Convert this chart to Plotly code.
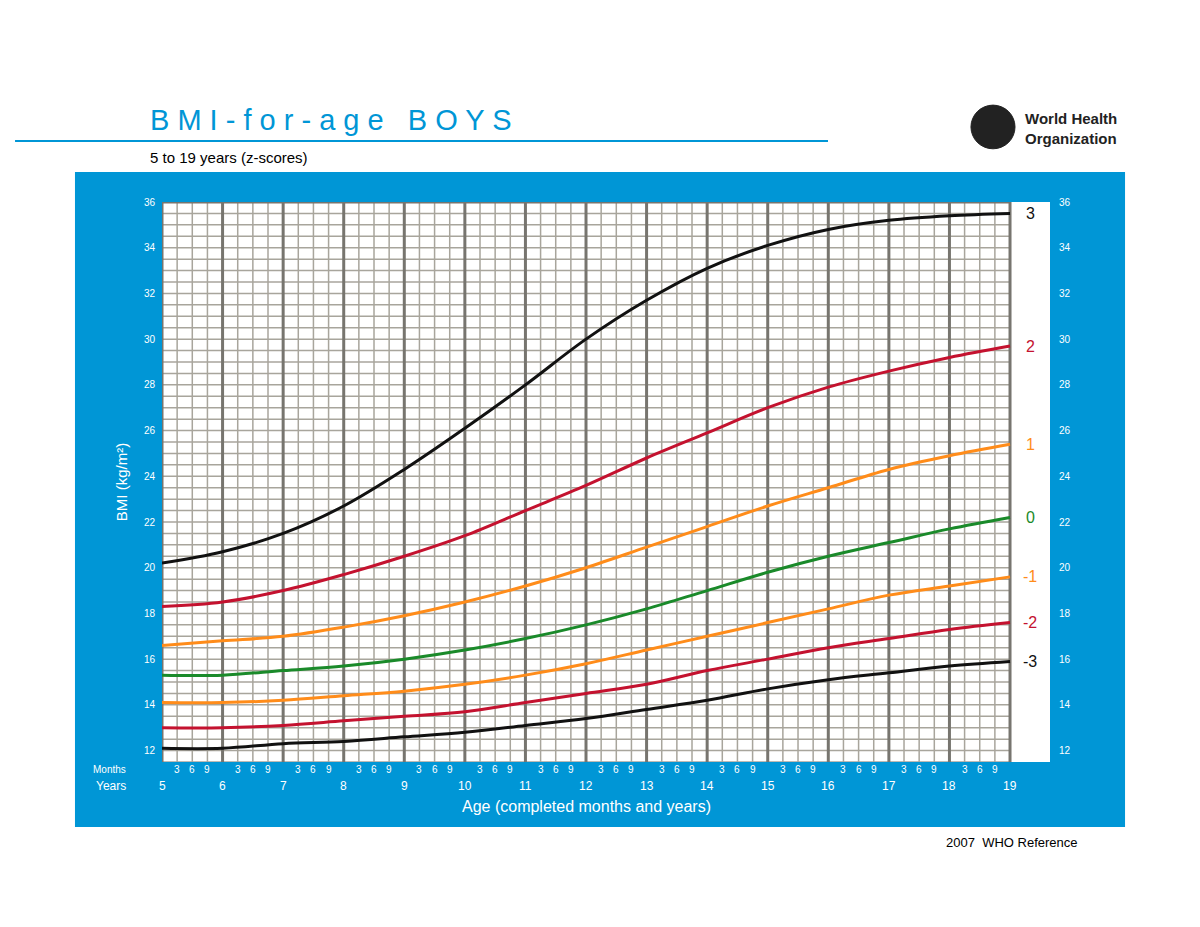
import plotly.graph_objects as go

ages = list(range(5, 20))
sd3 = [20.2, 20.7, 21.5, 22.7, 24.3, 26.1, 28.0, 30.0, 31.7, 33.1, 34.1, 34.8, 35.2, 35.4, 35.5]
sd2 = [18.3, 18.5, 19.0, 19.7, 20.5, 21.4, 22.5, 23.6, 24.8, 25.9, 27.0, 27.9, 28.6, 29.2, 29.7]
sd1 = [16.6, 16.8, 17.0, 17.4, 17.9, 18.5, 19.2, 20.0, 20.9, 21.8, 22.7, 23.5, 24.3, 24.9, 25.4]
sd0 = [15.3, 15.3, 15.5, 15.7, 16.0, 16.4, 16.9, 17.5, 18.2, 19.0, 19.8, 20.5, 21.1, 21.7, 22.2]
sdm1 = [14.1, 14.1, 14.2, 14.4, 14.6, 14.9, 15.3, 15.8, 16.4, 17.0, 17.6, 18.2, 18.8, 19.2, 19.6]
sdm2 = [13.0, 13.0, 13.1, 13.3, 13.5, 13.7, 14.1, 14.5, 14.9, 15.5, 16.0, 16.5, 16.9, 17.3, 17.6]
sdm3 = [12.1, 12.1, 12.3, 12.4, 12.6, 12.8, 13.1, 13.4, 13.8, 14.2, 14.7, 15.1, 15.4, 15.7, 15.9]
series_labels = ["3", "2", "1", "0", "-1", "-2", "-3"]
month_labels = ["3", "6", "9"]
y_ticks = list(range(12, 37, 2))

BLACK, RED, ORANGE, GREEN = "#111111", "#c4122f", "#ff8c1a", "#1a8a2a"
BLUE = "#0096d6"
series = [(sd3, BLACK), (sd2, RED), (sd1, ORANGE), (sd0, GREEN),
          (sdm1, ORANGE), (sdm2, RED), (sdm3, BLACK)]

fig = go.Figure()
for vals, col in series:
    fig.add_trace(go.Scatter(x=ages, y=vals, mode="lines", line=dict(color=col, width=3, shape="spline"),
                             showlegend=False, hoverinfo="skip"))
fig.add_trace(go.Scatter(x=[5], y=[12], yaxis="y2", mode="markers", marker=dict(opacity=0),
                         showlegend=False, hoverinfo="skip"))

YMIN, YMAX, XMAX = 11.5, 36, 19.66
GRID, MAJOR = "#a8a59c", "#77756f"
shapes = [
    dict(type="rect", xref="paper", yref="paper", x0=-0.098, x1=1.0845, y0=-0.116, y1=1.0536,
         fillcolor=BLUE, line_width=0, layer="below"),
    dict(type="rect", xref="x", yref="y", x0=5, x1=XMAX, y0=YMIN, y1=YMAX,
         fillcolor="white", line_width=0, layer="below"),
    dict(type="line", xref="paper", yref="paper", x0=-0.1655, x1=0.750, y0=1.109, y1=1.109,
         line=dict(color=BLUE, width=2)),
    dict(type="circle", xref="paper", yref="paper", x0=0.911, x1=0.9606, y0=1.095, y1=1.173,
         fillcolor="#222", line=dict(color="#222", width=1)),
]
v = YMIN
while v <= YMAX + 1e-9:
    shapes.append(dict(type="line", xref="x", yref="y", x0=5, x1=19, y0=v, y1=v,
                       line=dict(color=GRID, width=1.5), layer="below"))
    v += 0.5
for q in range(0, 14 * 4 + 1):
    x = 5 + q / 4
    major = q % 4 == 0
    shapes.append(dict(type="line", xref="x", yref="y", x0=x, x1=x, y0=YMIN - (0.45 if major else 0), y1=YMAX,
                       line=dict(color=MAJOR if major else GRID, width=3 if major else 1.5),
                       layer="below"))
shapes.append(dict(type="line", xref="x", yref="y", x0=5, x1=19, y0=YMAX, y1=YMAX,
                   line=dict(color=MAJOR, width=3), layer="below"))

ann = []
for a in ages:
    ann.append(dict(x=a, y=-0.043, xref="x", yref="paper", text=str(a), showarrow=False,
                    font=dict(color="white", size=12)))
    if a < 19:
        for i, ml in enumerate(month_labels):
            ann.append(dict(x=a + (i + 1) * 0.25, y=-0.0125, xref="x", yref="paper", text=ml, showarrow=False,
                            font=dict(color="white", size=10)))
ann.append(dict(x=-0.038, y=-0.0125, xref="paper", yref="paper", text="Months", showarrow=False,
                xanchor="right", font=dict(color="white", size=10)))
ann.append(dict(x=-0.038, y=-0.043, xref="paper", yref="paper", text="Years", showarrow=False,
                xanchor="right", font=dict(color="white", size=12)))
ann.append(dict(x=12, y=-0.080, xref="x", yref="paper", text="Age (completed months and years)", showarrow=False,
                font=dict(color="white", size=16)))
for (vals, col), lab in zip(series, series_labels):
    ann.append(dict(x=19.33, y=vals[-1], xref="x", yref="y", text=lab, showarrow=False,
                    font=dict(color=col, size=16)))
ann += [
    dict(x=-0.0158, y=1.146, xref="paper", yref="paper", text="B M I - f o r - a g e &nbsp; B O Y S",
         showarrow=False, xanchor="left", font=dict(color=BLUE, size=29)),
    dict(x=-0.0158, y=1.080, xref="paper", yref="paper", text="5 to 19 years (z-scores)",
         showarrow=False, xanchor="left", font=dict(color="black", size=15)),
    dict(x=1.0338, y=-0.1446, xref="paper", yref="paper", text="2007  WHO Reference",
         showarrow=False, xanchor="right", font=dict(color="black", size=13)),
    dict(x=0.970, y=1.132, xref="paper", yref="paper", text="<b>World Health<br>Organization</b>",
         showarrow=False, xanchor="left", align="left",
         font=dict(color="#222", size=15, family="Liberation Sans Narrow, Arial")),
]
for a_ in ann:
    a_["yanchor"] = "middle"

fig.update_layout(
    width=1200, height=927, paper_bgcolor="white", plot_bgcolor="rgba(0,0,0,0)",
    margin=dict(l=154, r=158, t=194, b=173),
    font=dict(family="Liberation Sans, Arial"),
    xaxis=dict(range=[5, XMAX], showgrid=False, zeroline=False, showticklabels=False, ticks=""),
    yaxis=dict(range=[YMIN, YMAX], tickvals=y_ticks, showgrid=False, zeroline=False,
               tickfont=dict(color="white", size=10), ticklabelstandoff=6,
               title=dict(text="BMI (kg/m²)", font=dict(color="white", size=15), standoff=12)),
    yaxis2=dict(range=[YMIN, YMAX], tickvals=y_ticks, overlaying="y", side="right", showgrid=False,
                zeroline=False, tickfont=dict(color="white", size=10), ticklabelstandoff=8),
    shapes=shapes, annotations=ann,
)
fig.write_html("out.html")
